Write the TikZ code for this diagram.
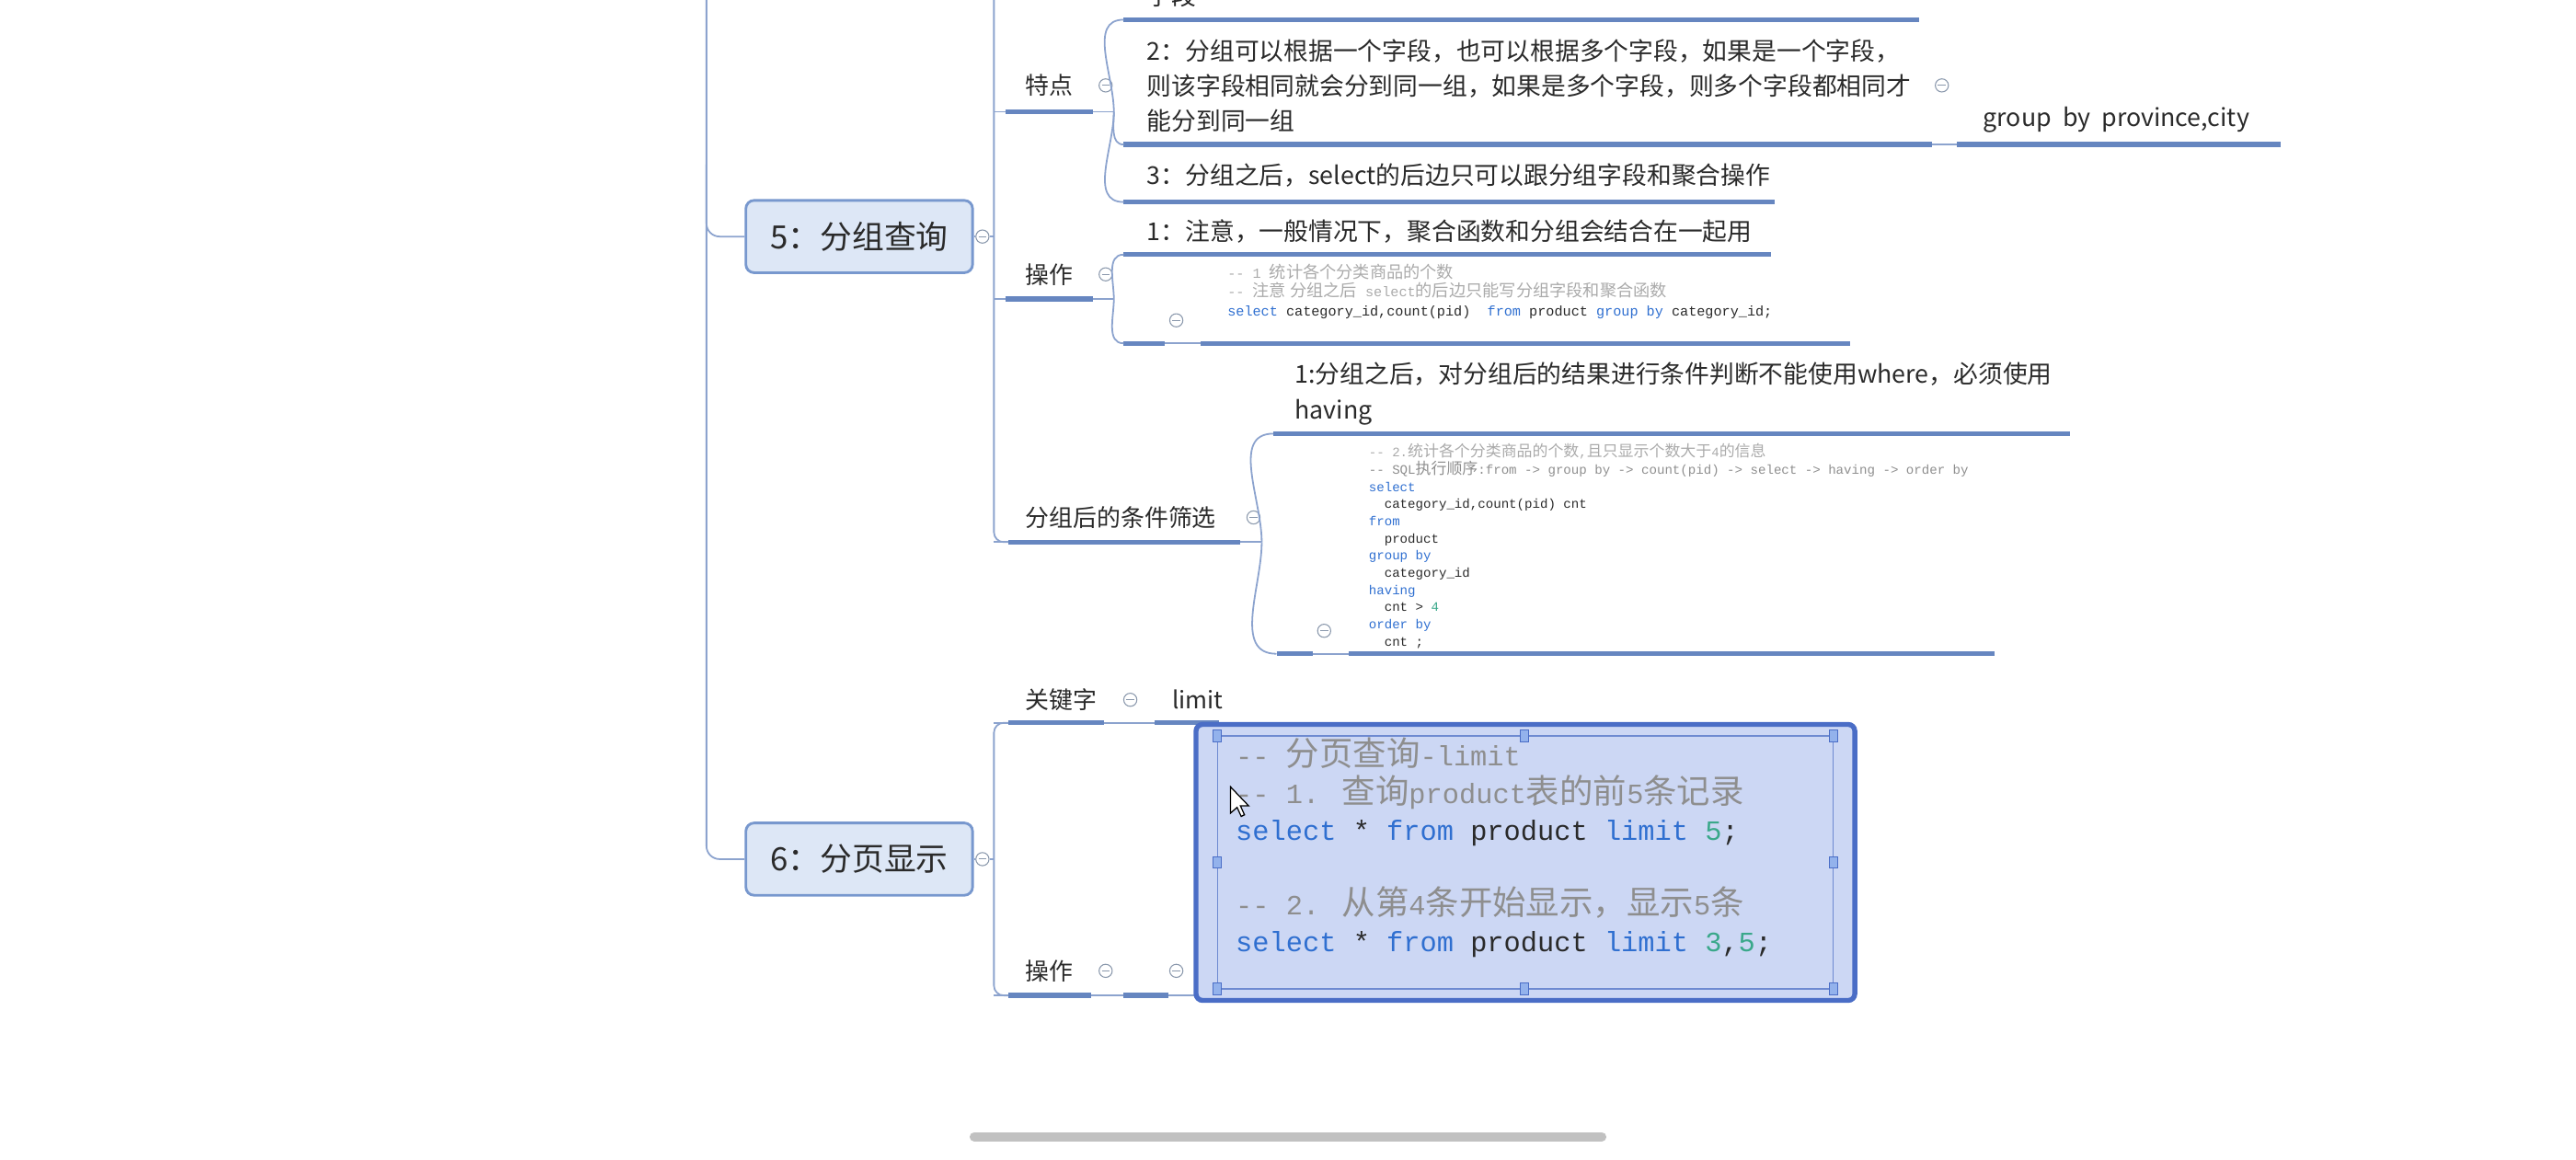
\documentclass[tikz,border=0pt]{standalone}
\usepackage{fontspec}
\setmainfont{Noto Sans CJK SC}
\newfontfamily\codefont{Liberation Mono}
\newfontfamily\codecjk{Noto Sans CJK SC}[Scale=1.2]
\usetikzlibrary{positioning}

\definecolor{ink}{HTML}{2A2A2A}
\definecolor{linkblue}{HTML}{8CA3CE}
\definecolor{barblue}{HTML}{6686C0}
\definecolor{topicfill}{HTML}{DDE7F6}
\definecolor{topicline}{HTML}{7898CE}
\definecolor{foldgray}{HTML}{8A98AC}
\definecolor{selfill}{HTML}{CCD7F4}
\definecolor{selline}{HTML}{4A6DC6}
\definecolor{handlefill}{HTML}{93B2EC}
\definecolor{kw}{HTML}{2F6FD0}
\definecolor{cmt}{HTML}{8E8E8E}
\definecolor{cmtlight}{HTML}{AAAAAA}
\definecolor{num}{HTML}{3AA88A}
\definecolor{scrollgray}{HTML}{C1C1C1}

\newcommand{\dd}{-{}-}
\newcommand{\ind}{\phantom{xx}}

\tikzset{
  topic/.style={draw=topicline, line width=1.6pt, fill=topicfill, rounded corners=5pt,
    minimum width=138pt, minimum height=44pt, text=ink, font=\fontsize{19.5}{23}\selectfont},
  subtopic/.style={anchor=west, inner sep=0pt, text=ink, font=\fontsize{14.5}{18}\selectfont},
  leaftext/.style={anchor=west, inner sep=0pt, align=left, text=ink, font=\fontsize{15}{21.5}\selectfont},
  codeblock/.style={anchor=north west, inner sep=0pt, align=left, text=ink},
  linkline/.style={draw=linkblue, line width=1pt},
  ubar/.style={draw=barblue, line width=3pt},
  fold/.style={circle, draw=foldgray, line width=0.6pt, fill=white, minimum size=8pt, inner sep=0pt,
    path picture={\draw[foldgray, line width=0.6pt]
      ([xshift=-2.4pt]path picture bounding box.center) -- ([xshift=2.4pt]path picture bounding box.center);}},
  handle/.style={draw=selline, fill=handlefill, line width=0.5pt, inner sep=0pt,
    minimum width=5pt, minimum height=7pt},
}

\begin{document}
\begin{tikzpicture}[x=1pt, y=-1pt]
\useasboundingbox (0,0) rectangle (1568,706);
\clip (0,0) rectangle (1568,706);

% Main topics on the trunk
\node[topic] (g5) at (523,144) {5：分组查询};
\node[topic] (g6) at (523,523) {6：分页显示};
\draw[linkline, rounded corners=8pt] (430,-5) -- (430,0 |- g6.west) -- (g6.west);
\draw[linkline, rounded corners=8pt] (430,100) -- (430,0 |- g5.west) -- (g5.west);
\node[fold] (f5) at (598,144) {};
\node[fold] (f6) at (598,523) {};
\coordinate (sp5) at (605,144);
\coordinate (sp6) at (605,523);
\draw[linkline] (g5.east) -- (f5.west) (f5.east) -- (sp5);
\draw[linkline] (g6.east) -- (f6.west) (f6.east) -- (sp6);

% Spine of 5
\draw[linkline, rounded corners=6pt] (605,-5) -- (605,330) -- (620,330);

% 特点
\node[subtopic] (tedian) at (624,52) {特点};
\node[fold] (ftd) at (673,52) {};
\coordinate (td-a) at (605,68);
\coordinate (td-b) at (678,68);
\draw[linkline] (td-a) -- (td-b);
\draw[ubar] (612,68) -- (665,68);
\node[leaftext, anchor=base west] (td1) at (698,3) {字段};
\node[leaftext, anchor=north west] (td2) at (698,23.5) {2：分组可以根据一个字段，也可以根据多个字段，如果是一个字段，\\则该字段相同就会分到同一组，如果是多个字段，则多个字段都相同才\\能分到同一组};
\node[leaftext] (td3) at (698,107) {3：分组之后，select的后边只可以跟分组字段和聚合操作};
\coordinate (td1-l) at (684,12);
\coordinate (td2-l) at (684,88);
\coordinate (td3-l) at (684,123);
\draw[ubar] (td1-l) -- (1168,12);
\draw[ubar] (td2-l) -- (1176,88);
\draw[ubar] (td3-l) -- (1080,123);
\draw[linkline] (td-b) to[out=90,in=180] (td1-l);
\draw[linkline] (td-b) to[out=-90,in=180] (td2-l);
\draw[linkline] (td-b) to[out=-90,in=180] (td3-l);
\node[fold] (ftd2) at (1182,52) {};
\node[leaftext] (gb) at (1207,73) {group\ \ by\ \ province,city};
\draw[linkline] (1176,88) -- (1192,88);
\draw[ubar] (1191,88) -- (1388,88);

% 操作 of 5
\node[subtopic] (cz) at (624,167) {操作};
\node[fold] (fcz) at (673,167) {};
\coordinate (cz-b) at (678,182);
\draw[linkline] (605,182) -- (cz-b);
\draw[ubar] (612,182) -- (665,182);
\node[leaftext] (cz1) at (698,141) {1：注意，一般情况下，聚合函数和分组会结合在一起用};
\coordinate (cz1-l) at (684,155);
\coordinate (cz2-l) at (684,209);
\draw[ubar] (cz1-l) -- (1078,155);
\node[codeblock, font=\codefont\fontsize{8.5}{11.5}\selectfont] (cz2) at (747,160.5) {%
\textcolor{cmtlight}{\dd\ 1 {\codecjk 统计各个分类商品的个数}}\\
\textcolor{cmtlight}{\dd\ {\codecjk 注意 分组之后} select{\codecjk 的后边只能写分组字段和聚合函数}}\\
\textcolor{kw}{select} category\_id,count(pid)\ \ \textcolor{kw}{from} product \textcolor{kw}{group by} category\_id;};
\node[fold] (fcz2) at (716,195) {};
\draw[ubar] (cz2-l) -- (709,209);
\draw[linkline] (709,209) -- (731,209);
\draw[ubar] (731,209) -- (1126,209);
\draw[linkline] (cz-b) to[out=90,in=180] (cz1-l);
\draw[linkline] (cz-b) to[out=-90,in=180] (cz2-l);

% 分组后的条件筛选
\node[subtopic] (sx) at (624,315) {分组后的条件筛选};
\node[fold] (fsx) at (763,315) {};
\coordinate (sx-b) at (768,330);
\draw[linkline] (605,330) -- (sx-b);
\draw[ubar] (614,330) -- (755,330);
\node[leaftext, anchor=north west] (sx1) at (788,220.5) {1:分组之后，对分组后的结果进行条件判断不能使用where，必须使用\\having};
\coordinate (sx1-l) at (775,264);
\coordinate (sx2-l) at (777,398);
\draw[ubar] (sx1-l) -- (1260,264);
\node[codeblock, font=\codefont\fontsize{7.9}{10.45}\selectfont] (sx2) at (833,270) {%
\textcolor{cmtlight}{\dd\ 2.{\codecjk 统计各个分类商品的个数},{\codecjk 且只显示个数大于}4{\codecjk 的信息}}\\
\textcolor{cmt}{\dd\ SQL{\codecjk 执行顺序}:from -> group by -> count(pid) -> select -> having -> order by}\\
\textcolor{kw}{select}\\
\ind category\_id,count(pid) cnt\\
\textcolor{kw}{from}\\
\ind product\\
\textcolor{kw}{group by}\\
\ind category\_id\\
\textcolor{kw}{having}\\
\ind cnt > \textcolor{num}{4}\\
\textcolor{kw}{order by}\\
\ind cnt ;};
\node[fold] (fsx2) at (806,384) {};
\draw[ubar] (sx2-l) -- (799,398);
\draw[linkline] (799,398) -- (821,398);
\draw[ubar] (821,398) -- (1214,398);
\draw[linkline] (sx-b) to[out=90,in=180] (sx1-l);
\draw[linkline] (sx-b) to[out=-90,in=180] (sx2-l);

% Spine of 6
\draw[linkline, rounded corners=6pt] (620,440) -- (605,440) -- (605,606) -- (620,606);

% 关键字
\node[subtopic] (gjz) at (624,426) {关键字};
\node[fold] (fgjz) at (688,426) {};
\node[subtopic, right=21pt of fgjz] (lim) {limit};
\draw[linkline] (605,440) -- (742,440);
\draw[ubar] (614,440) -- (672,440);
\draw[ubar] (703,440) -- (742,440);

% 操作 of 6
\node[subtopic] (cz6) at (624,591) {操作};
\node[fold] (fcz6) at (673,591) {};
\node[fold] (fcz6b) at (716,591) {};
\draw[linkline] (605,606) -- (730,606);
\draw[ubar] (614,606) -- (664,606);
\draw[ubar] (684,606) -- (711,606);

% Selected code box
\node[draw=selline, line width=3pt, rounded corners=4pt, fill=selfill,
  minimum width=401pt, minimum height=168pt] (sel) at (928.5,525) {};
\draw[selline!80, line width=0.6pt] (741,448) rectangle (1116,602);
\foreach \hx/\hy [count=\i] in {741/448, 928/448, 1116/448, 741/525, 1116/525, 741/602, 928/602, 1116/602}
  \node[handle] (h\i) at (\hx,\hy) {};
\node[codeblock, font=\codefont\fontsize{17}{22.6}\selectfont] (limcode) at (752,449) {%
\textcolor{cmt}{\dd\ {\codecjk 分页查询}-limit}\\
\textcolor{cmt}{\dd\ 1. {\codecjk 查询}product{\codecjk 表的前}5{\codecjk 条记录}}\\
\textcolor{kw}{select} * \textcolor{kw}{from} product \textcolor{kw}{limit} \textcolor{num}{5};\\
\mbox{}\\
\textcolor{cmt}{\dd\ 2. {\codecjk 从第}4{\codecjk 条开始显示，显示}5{\codecjk 条}}\\
\textcolor{kw}{select} * \textcolor{kw}{from} product \textcolor{kw}{limit} \textcolor{num}{3},\textcolor{num}{5};};

% Mouse pointer
\filldraw[fill=white, draw=black, line width=0.7pt] (749,479) -- ++(0,16) -- ++(4,-3.5)
  -- ++(2.5,5.5) -- ++(2,-1) -- ++(-2.5,-5.5) -- ++(5,0) -- cycle;

% Scroll bar
\coordinate (sb-l) at (593,692);
\coordinate (sb-r) at (975,692);
\draw[scrollgray, line width=5.6pt, line cap=round] (sb-l) -- (sb-r);
\end{tikzpicture}
\end{document}
